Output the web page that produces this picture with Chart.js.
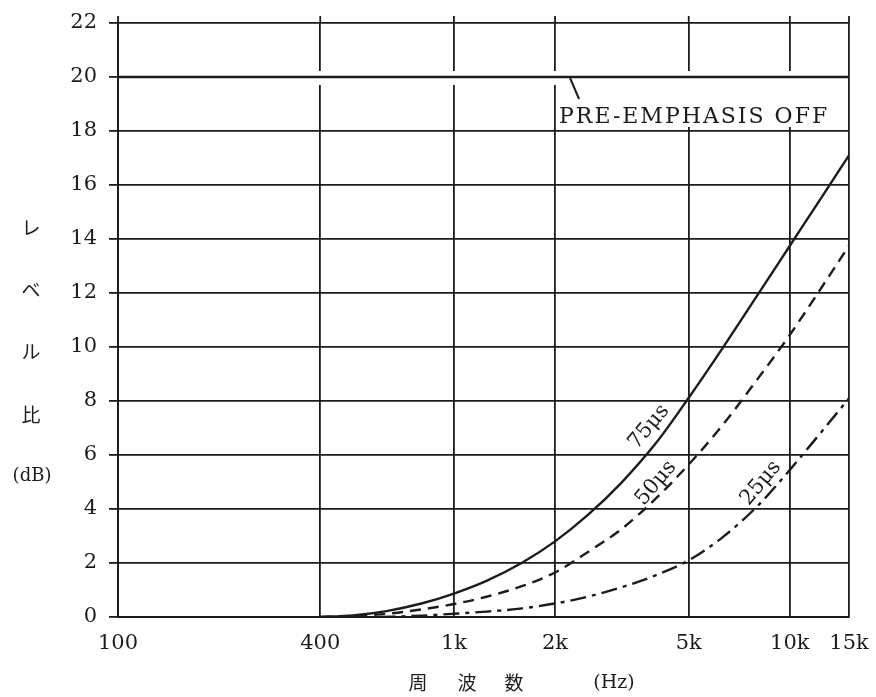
<!DOCTYPE html>
<html>
<head>
<meta charset="utf-8">
<script src="https://cdn.jsdelivr.net/npm/chart.js@4.4.1/dist/chart.umd.min.js"></script>
<style>
  body { margin: 0; background: #fff; }
  #wrap { width: 876px; height: 697px; }
</style>
</head>
<body>
<div id="wrap"><canvas id="grafica" width="876" height="697"></canvas></div>
<script>
// eje de frecuencias (Hz)
const freqTicks = [100, 400, 1000, 2000, 5000, 10000, 15000];
const freqLabels = ['100', '400', '1k', '2k', '5k', '10k', '15k'];

// curvas de pre-énfasis
const freq75 = [400, 500, 630, 800, 1000, 1250, 1600, 2000, 2500, 3150, 4000, 5000, 6300, 8000, 10000, 12500, 15000];
const level75 = [0, 0.06, 0.22, 0.5, 0.87, 1.34, 2.02, 2.8, 3.77, 4.97, 6.45, 8.12, 9.95, 11.91, 13.75, 15.59, 17.1];

const freq50 = [400, 500, 630, 800, 1000, 1250, 1600, 2000, 2500, 3150, 4000, 5000, 6300, 8000, 10000, 12500, 15000];
const level50 = [0, 0.04, 0.12, 0.28, 0.48, 0.75, 1.15, 1.65, 2.4, 3.25, 4.4, 5.65, 7.1, 8.8, 10.45, 12.25, 13.75];

const freq25 = [600, 800, 1000, 1250, 1600, 2000, 2500, 3150, 4000, 5000, 6300, 8000, 10000, 12500, 15000];
const level25 = [0, 0.05, 0.12, 0.2, 0.32, 0.5, 0.75, 1.1, 1.55, 2.1, 2.95, 4.1, 5.45, 6.9, 8.1];

// PRE-EMPHASIS OFF
const freqOff = [100, 15000];
const levelOff = [20, 20];

const curveNames = ['75μs', '50μs', '25μs'];

function puntos(fs, vs) {
    return fs.map((f, i) => ({ x: f, y: vs[i] }));
}

const negro = '#1c1c1c';

const decor = {
    id: 'decor',
    beforeDatasetsDraw(chart) {
        const { ctx, chartArea: a, scales: { x, y } } = chart;
        const y20 = y.getPixelForValue(20);
        const y18 = y.getPixelForValue(18);
        ctx.save();
        // huecos blancos alrededor de la línea de 20 dB y del rótulo
        ctx.fillStyle = '#fff';
        ctx.fillRect(a.left + 2, y20 - 6, a.right - a.left - 4, 14);
        const bx = x.getPixelForValue(2000) + 2;
        ctx.fillRect(bx, y20, a.right - 2 - bx, y18 - 4 - y20);
        // las líneas verticales sobresalen un poco por arriba
        ctx.strokeStyle = negro;
        ctx.lineWidth = 1.8;
        freqTicks.forEach(f => {
            const px = x.getPixelForValue(f);
            ctx.beginPath();
            ctx.moveTo(px, a.top - 7);
            ctx.lineTo(px, a.top);
            ctx.stroke();
        });
        ctx.restore();
    },
    afterDatasetsDraw(chart) {
        const { ctx, scales: { x, y } } = chart;
        const y20 = y.getPixelForValue(20);
        const x2k = x.getPixelForValue(2000);
        ctx.save();
        ctx.fillStyle = negro;
        ctx.strokeStyle = negro;

        // rótulo y flecha
        ctx.lineWidth = 2;
        ctx.beginPath();
        ctx.moveTo(x2k + 15, y20 + 1);
        ctx.lineTo(x2k + 24, y20 + 22);
        ctx.stroke();
        ctx.font = '22px "DejaVu Serif"';
        ctx.textBaseline = 'alphabetic';
        ctx.textAlign = 'left';
        if ('letterSpacing' in ctx) ctx.letterSpacing = '2px';
        ctx.fillText('PRE-EMPHASIS OFF', x2k + 4, y20 + 46);
        if ('letterSpacing' in ctx) ctx.letterSpacing = '0px';

        // nombres de las curvas
        const pos = [[3808, 7.04], [3995, 4.96], [8200, 4.96]];
        ctx.font = '21px "DejaVu Serif"';
        ctx.textAlign = 'center';
        ctx.textBaseline = 'middle';
        curveNames.forEach((t, i) => {
            ctx.save();
            ctx.translate(x.getPixelForValue(pos[i][0]), y.getPixelForValue(pos[i][1]));
            ctx.rotate(-50 * Math.PI / 180);
            ctx.fillText(t, 0, 0);
            ctx.restore();
        });

        // título del eje vertical
        ctx.font = '19px "Noto Sans CJK JP"';
        [['レ', 228], ['ベ', 290], ['ル', 352], ['比', 415]].forEach(c => ctx.fillText(c[0], 31, c[1]));
        ctx.font = '18px "DejaVu Serif"';
        ctx.fillText('(dB)', 32, 476);

        // título del eje horizontal
        ctx.font = '19px "Noto Sans CJK JP"';
        [['周', 418], ['波', 467], ['数', 514]].forEach(c => ctx.fillText(c[0], c[1], 683));
        ctx.font = '19px "DejaVu Serif"';
        ctx.fillText('(Hz)', 614, 683);
        ctx.restore();
    }
};

const ctx = document.getElementById('grafica').getContext('2d');
const myChart = new Chart(ctx, {
    type: 'line',
    data: {
        datasets: [
            {
                label: 'OFF',
                data: puntos(freqOff, levelOff),
                borderColor: negro,
                borderWidth: 2.6,
                pointRadius: 0
            },
            {
                label: curveNames[0],
                data: puntos(freq75, level75),
                borderColor: negro,
                borderWidth: 2.4,
                pointRadius: 0,
                cubicInterpolationMode: 'monotone'
            },
            {
                label: curveNames[1],
                data: puntos(freq50, level50),
                borderColor: negro,
                borderWidth: 2.4,
                borderDash: [11, 7],
                pointRadius: 0,
                cubicInterpolationMode: 'monotone'
            },
            {
                label: curveNames[2],
                data: puntos(freq25, level25),
                borderColor: negro,
                borderWidth: 2.4,
                borderDash: [16, 6, 4, 6],
                pointRadius: 0,
                cubicInterpolationMode: 'monotone'
            }
        ]
    },
    options: {
        responsive: false,
        animation: false,
        layout: { padding: { left: 0, top: 23, right: 27, bottom: 0 } },
        plugins: {
            legend: { display: false },
            tooltip: { enabled: false }
        },
        scales: {
            x: {
                type: 'logarithmic',
                min: 100,
                max: 15000,
                afterBuildTicks: axis => {
                    axis.ticks = freqTicks.map(v => ({ value: v }));
                },
                afterFit: scale => {
                    scale.height = 80;
                    scale.paddingLeft = 0;
                    scale.paddingRight = 0;
                },
                ticks: {
                    autoSkip: false,
                    maxRotation: 0,
                    padding: 14,
                    color: negro,
                    font: { family: 'DejaVu Serif', size: 21 },
                    callback: v => freqLabels[freqTicks.indexOf(v)]
                },
                grid: { color: negro, lineWidth: 1.8, drawTicks: false },
                border: { color: negro, width: 2 }
            },
            y: {
                min: 0,
                max: 22,
                afterFit: scale => {
                    scale.width = 118;
                    scale.paddingTop = 0;
                    scale.paddingBottom = 0;
                },
                ticks: {
                    stepSize: 2,
                    padding: 12,
                    color: negro,
                    font: { family: 'DejaVu Serif', size: 21 }
                },
                grid: { color: negro, lineWidth: 1.8, tickLength: 9 },
                border: { color: negro, width: 2 }
            }
        }
    },
    plugins: [decor]
});
</script>
</body>
</html>
